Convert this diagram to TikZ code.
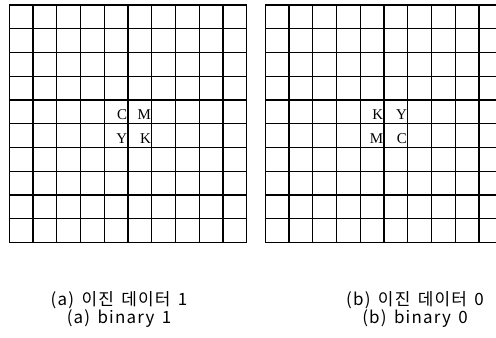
\documentclass[tikz,border=0pt]{standalone}
\usepackage{fontspec}
\newfontfamily\hangul[LetterSpace=7,WordSpace=1.5]{Noto Sans CJK KR}
\newfontfamily\letterfont{Liberation Serif}
\usetikzlibrary{positioning}
\newcommand{\cellw}{23.75}

\begin{document}
\begin{tikzpicture}[
      x=1bp, y=1bp,
      gridline/.style={line width=1.3bp, black},
      mark letter/.style={anchor=base east, inner sep=0pt,
                          font=\letterfont\fontsize{15}{15}\selectfont},
      caption/.style={font=\hangul\fontsize{17}{19}\selectfont, inner sep=0pt}
    ]
    \useasboundingbox (0,0) rectangle (496,337);
    \clip (0,0) rectangle (496,337);

    % --- grid (a) ----------------------------------------------------------
    \begin{scope}[shift={(9.3,94.5)}]
      \foreach \i in {0,...,10} {
        \draw[gridline] (\i*\cellw,0) -- (\i*\cellw,10*\cellw);
        \draw[gridline] (0,\i*\cellw) -- (10*\cellw,\i*\cellw);
      }
      \node[mark letter] (ac) at (5*\cellw-0.8,5*\cellw+4.5) {C};
      \node[mark letter] (am) at (6*\cellw-0.8,5*\cellw+4.5) {M};
      \node[mark letter] (ay) at (5*\cellw-0.8,4*\cellw+4.5) {Y};
      \node[mark letter] (ak) at (6*\cellw-0.8,4*\cellw+4.5) {K};
    \end{scope}

    % --- grid (b) ----------------------------------------------------------
    \begin{scope}[shift={(265.3,94.5)}]
      \foreach \i in {0,...,10} {
        \draw[gridline] (\i*\cellw,0) -- (\i*\cellw,10*\cellw);
        \draw[gridline] (0,\i*\cellw) -- (10*\cellw,\i*\cellw);
      }
      \node[mark letter] (bk) at (5*\cellw-0.8,5*\cellw+4.5) {K};
      \node[mark letter] (by) at (6*\cellw-0.8,5*\cellw+4.5) {Y};
      \node[mark letter] (bm) at (5*\cellw-0.8,4*\cellw+4.5) {M};
      \node[mark letter] (bc) at (6*\cellw-0.8,4*\cellw+4.5) {C};
    \end{scope}

    % --- captions ----------------------------------------------------------
    \node[caption] (capa) at (119,37) {(a) 이진 데이터 1};
    \node[caption, below=1bp of capa] (capaen) {(a) binary 1};
    \node[caption] (capb) at (415,37) {(b) 이진 데이터 0};
    \node[caption, below=1bp of capb] (capben) {(b) binary 0};
  \end{tikzpicture}
\end{document}
